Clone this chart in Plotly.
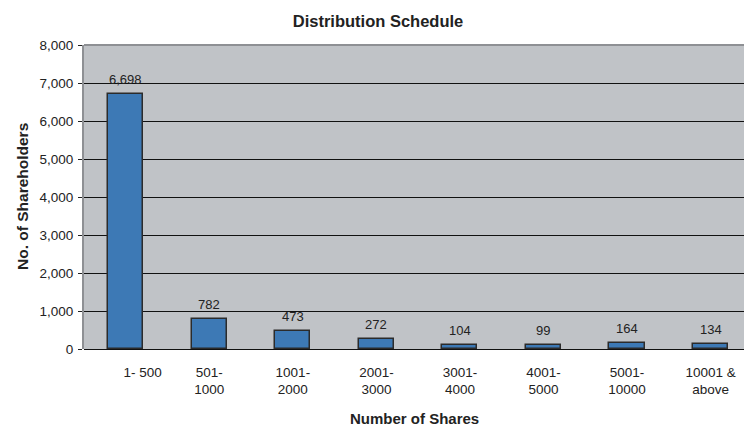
import plotly.graph_objects as go

categories = ["1- 500", "501-<br>1000", "1001-<br>2000", "2001-<br>3000",
              "3001-<br>4000", "4001-<br>5000", "5001-<br>10000", "10001 &<br>above"]
shareholders = [6698, 782, 473, 272, 104, 99, 164, 134]
y_ticks = [0, 1000, 2000, 3000, 4000, 5000, 6000, 7000, 8000]

x_idx = list(range(len(categories)))
tick_text = list(categories)
tick_text[0] = "\u00a0" * 9 + categories[0]

font_family = "Liberation Sans, Arial, sans-serif"

fig = go.Figure()
fig.add_trace(go.Bar(
    x=x_idx, y=shareholders, width=0.42,
    marker=dict(color="#3d79b5", line=dict(color="#2b2b2b", width=1.5)),
    hoverinfo="skip",
))

annotations = []
for xi, v in zip(x_idx, shareholders):
    annotations.append(dict(
        x=xi, y=v, xref="x", yref="y", text=f"{v:,}", showarrow=False,
        yanchor="bottom", yshift=5,
        font=dict(family=font_family, size=13, color="#222222"),
    ))
annotations.append(dict(
    x=0.5, y=(349 - 418) / 304.0, xref="paper", yref="paper", text="<b>Number of Shares</b>",
    showarrow=False, yanchor="middle", xanchor="center",
    font=dict(family=font_family, size=15, color="#222222"),
))
annotations.append(dict(
    x=(22 - 84) / 660.0, y=0.5, xref="paper", yref="paper", text="<b>No. of Shareholders</b>",
    showarrow=False, textangle=-90, xanchor="center", yanchor="middle",
    font=dict(family=font_family, size=15.5, color="#222222"),
))

fig.update_layout(
    width=744, height=426,
    margin=dict(l=84, r=0, t=45, b=77),
    paper_bgcolor="white",
    plot_bgcolor="#c0c3c7",
    showlegend=False,
    bargap=0,
    title=dict(text="<b>Distribution Schedule</b>", x=378 / 744, xanchor="center",
               y=1 - 21 / 426, yanchor="middle",
               font=dict(family=font_family, size=16.5, color="#222222")),
    xaxis=dict(
        range=[-0.5, 7.4], tickvals=x_idx, ticktext=tick_text,
        showgrid=False, zeroline=False,
        showline=False, ticks="", ticklabelstandoff=13,
        tickfont=dict(family=font_family, size=13.5, color="#222222"),
        fixedrange=True,
    ),
    yaxis=dict(
        range=[0, 8000], tickvals=y_ticks, tickformat=",",
        showgrid=True, gridcolor="#111111", gridwidth=1,
        zeroline=True, zerolinecolor="#111111", zerolinewidth=1,
        showline=True, linecolor="#8e9094", linewidth=2,
        ticks="outside", ticklen=4, tickcolor="#222222", tickwidth=1,
        tickfont=dict(family=font_family, size=13.5, color="#222222"),
        ticklabelstandoff=2,
        fixedrange=True,
    ),
    annotations=annotations,
    shapes=[dict(type="line", xref="paper", yref="paper", x0=0, x1=1, y0=1, y1=1,
                 line=dict(color="#8e9094", width=2), layer="above")],
)

fig.write_html("out.html")
